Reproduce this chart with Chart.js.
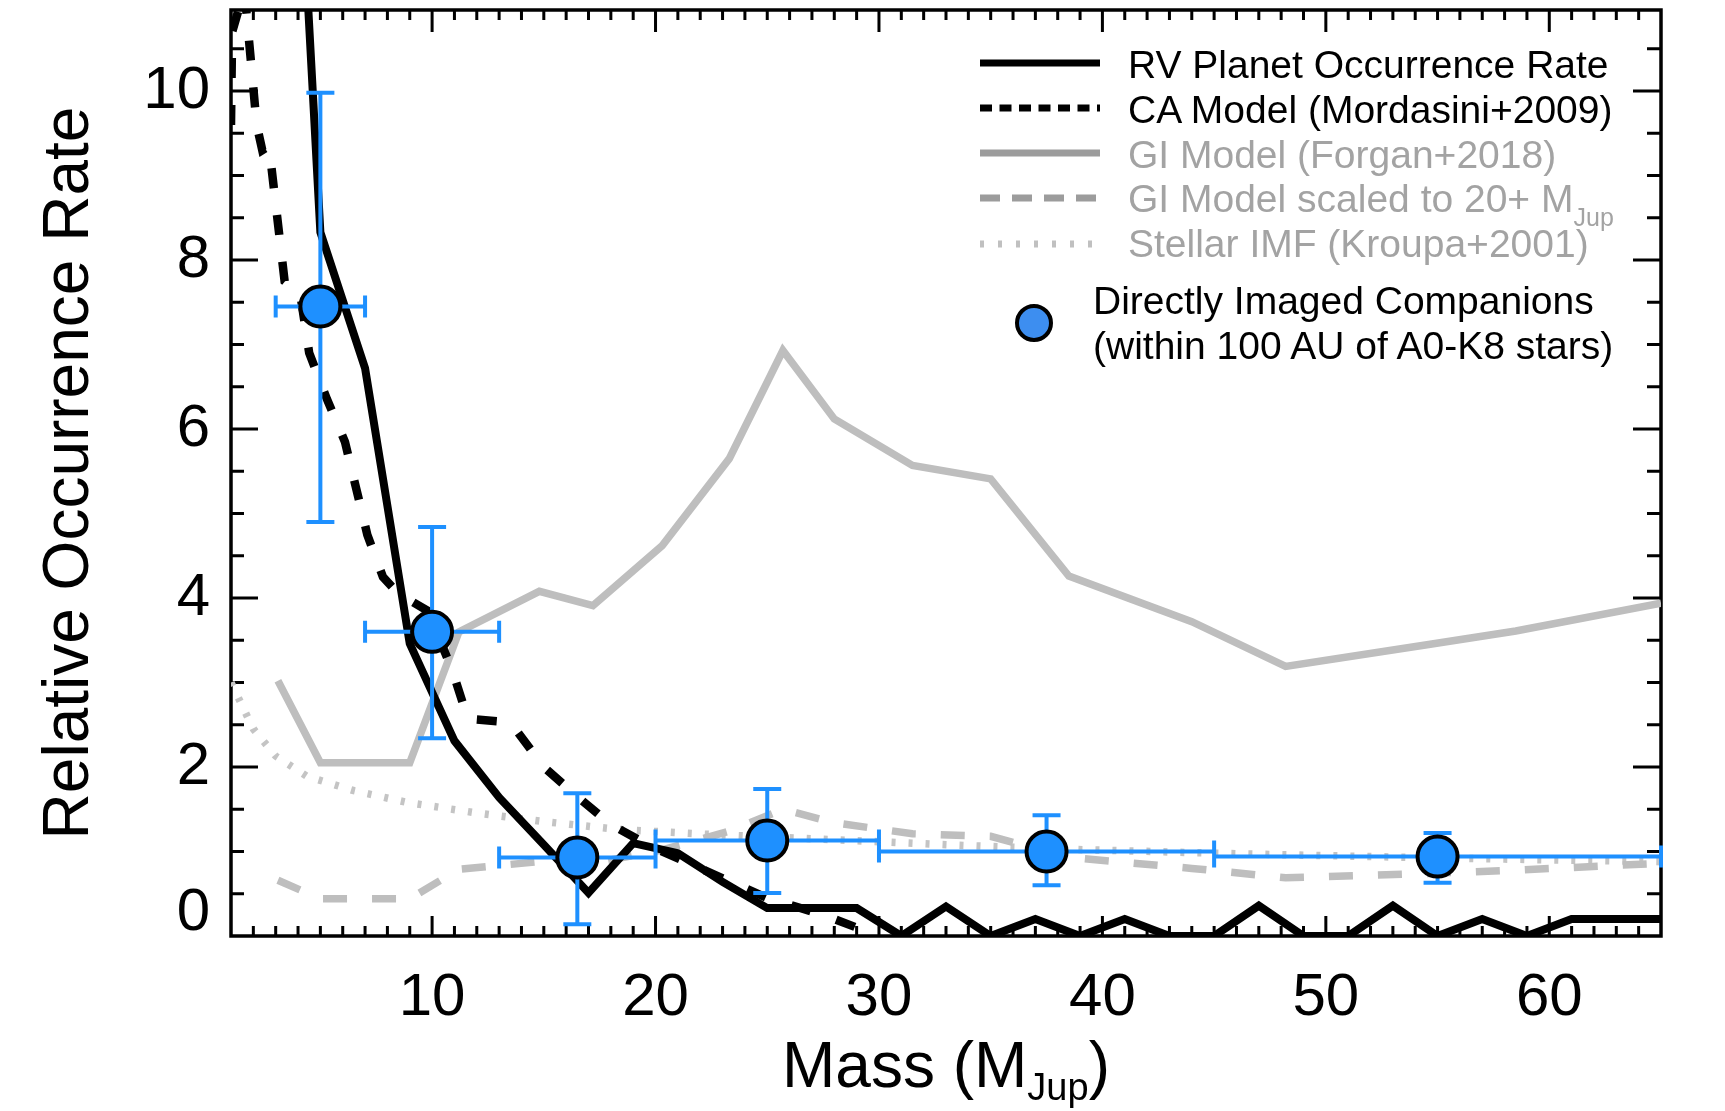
<!DOCTYPE html>
<html>
<head>
<meta charset="utf-8">
<title>Relative Occurrence Rate vs Mass</title>
<script src="https://cdn.jsdelivr.net/npm/chart.js"></script>
<style>
  body { margin: 0; background: #fff; }
  #wrap { position: relative; width: 1725px; height: 1111px; font-family: "Liberation Sans", Arial, sans-serif; color: #000; }
  #chart { position: absolute; left: 0; top: 0; }
  .lg { position: absolute; font-size: 39px; line-height: 1; white-space: nowrap; }
  .grey { color: #a3a3a3; }
  .sub { position: relative; }
  #xtitle { position: absolute; left: 231px; width: 1430px; top: 1033px; text-align: center; font-size: 64px; line-height: 1; white-space: nowrap; }
</style>
</head>
<body>
<div id="wrap">
  <canvas id="chart" width="1725" height="1111"></canvas>

  <!-- legend -->
  <svg style="position:absolute;left:0;top:0" width="1725" height="400">
    <line x1="980" y1="63" x2="1100" y2="63" stroke="#000" stroke-width="7"/>
    <line x1="980" y1="108" x2="1100" y2="108" stroke="#000" stroke-width="7" stroke-dasharray="12 7.5"/>
    <line x1="980" y1="153" x2="1100" y2="153" stroke="#9c9c9c" stroke-width="7"/>
    <line x1="980" y1="198" x2="1100" y2="198" stroke="#9c9c9c" stroke-width="7" stroke-dasharray="20 12"/>
    <line x1="980" y1="244" x2="1100" y2="244" stroke="#c0c0c0" stroke-width="7" stroke-dasharray="4 14"/>
    <circle cx="1034" cy="323" r="17" fill="#3d8ef0" stroke="#000" stroke-width="4"/>
  </svg>
  <div class="lg" style="left:1128px;top:45px">RV Planet Occurrence Rate</div>
  <div class="lg" style="left:1128px;top:90px">CA Model (Mordasini+2009)</div>
  <div class="lg grey" style="left:1128px;top:135px">GI Model (Forgan+2018)</div>
  <div class="lg grey" style="left:1128px;top:179px">GI Model scaled to 20+ M<span class="sub" style="font-size:25px;top:14px">Jup</span></div>
  <div class="lg grey" style="left:1128px;top:224px">Stellar IMF (Kroupa+2001)</div>
  <div class="lg" style="left:1093px;top:281px">Directly Imaged Companions</div>
  <div class="lg" style="left:1093px;top:326px">(within 100 AU of A0-K8 stars)</div>

  <div id="xtitle">Mass (M<span class="sub" style="font-size:38px;top:13px">Jup</span>)</div>
</div>

<script>
// RV planet occurrence rate (solid black)
const rvMass = [3, 5, 7, 9, 11, 13, 15, 17, 19, 21, 23, 25, 27, 29, 31, 33, 35, 37, 39, 41, 43, 45, 47, 49, 51, 53, 55, 57, 59, 61, 63, 65];
const rvRate = [18.1, 8.33, 6.72, 3.46, 2.31, 1.64, 1.08, 0.51, 1.1, 0.98, 0.64, 0.33, 0.33, 0.33, 0, 0.35, 0, 0.2, 0, 0.2, 0, 0, 0.36, 0, 0, 0.36, 0, 0.2, 0, 0.2, 0.2, 0.2];

// CA model, Mordasini+2009 (dashed black)
const caMass = [1.0, 1.05, 1.6, 2.15, 2.4, 2.7, 3.4, 4.1, 4.5, 5.3, 6.1, 6.6, 7.1, 7.8, 8.5, 9.8, 10.9, 11.6, 13.5, 15.0, 16.5, 18.0, 19.8, 22.0, 25.0, 27.5, 30.0];
const caRate = [9.6, 10.7, 11.2, 9.6, 9.3, 9.35, 7.75, 7.6, 6.9, 6.35, 5.85, 5.3, 4.75, 4.25, 4.05, 3.85, 3.15, 2.57, 2.53, 2.0, 1.65, 1.32, 1.06, 0.8, 0.45, 0.25, 0.0];

// GI model, Forgan+2018 (solid grey) and scaled to 20+ MJup (dashed grey)
const giMass = [3.1, 5, 9, 11.2, 14.8, 17.2, 20.3, 23.3, 25.7, 28, 31.5, 35, 38.5, 44, 48.2, 54.6, 58.5, 65];
const giRate = [3.02, 2.05, 2.05, 3.6, 4.08, 3.91, 4.62, 5.65, 6.93, 6.12, 5.57, 5.41, 4.26, 3.72, 3.19, 3.45, 3.61, 3.94];
const giScaledRate = [0.66, 0.44, 0.44, 0.79, 0.88, 0.86, 1.02, 1.24, 1.5, 1.34, 1.21, 1.18, 0.93, 0.8, 0.69, 0.74, 0.78, 0.86];

// stellar IMF, Kroupa+2001 (dotted grey)
const imfMass = [1, 2, 3, 4.4, 6.5, 8.9, 11.9, 14.8, 18.4, 22.6, 28, 33, 38, 45, 52, 58, 65];
const imfRate = [3.0, 2.45, 2.13, 1.89, 1.72, 1.58, 1.46, 1.36, 1.26, 1.2, 1.14, 1.08, 1.03, 0.98, 0.94, 0.91, 0.88];

// directly imaged companions with error bars
const diMass = [5, 10, 16.5, 25, 37.5, 55];
const diRate = [7.45, 3.6, 0.93, 1.13, 1.0, 0.94];
const diMassLo = [3, 7, 13, 20, 30, 45];
const diMassHi = [7, 13, 20, 30, 45, 65];
const diRateLo = [4.9, 2.34, 0.14, 0.51, 0.6, 0.63];
const diRateHi = [9.98, 4.84, 1.69, 1.74, 1.43, 1.22];

// tick labels (the "0" label sits a bit above the axis in the original)
const massTicks = [10, 20, 30, 40, 50, 60];
const rateTicks = [0.27, 2, 4, 6, 8, 10];

const blue = "#1e90ff";
const fontFamily = "'Liberation Sans', Arial, sans-serif";

function pts(xs, ys) {
    return xs.map((x, i) => ({ x: x, y: ys[i] }));
}

// box with inward ticks on all four sides
const frame = {
    id: "frame",
    beforeDatasetsDraw(chart) {
        const { ctx, chartArea: a, scales } = chart;
        const x = scales.x, y = scales.y;
        ctx.save();
        ctx.strokeStyle = "#000";
        ctx.lineWidth = 3;
        ctx.beginPath();
        for (let m = 2; m < 65; m++) {
            const px = x.getPixelForValue(m);
            const big = m % 10 === 0;
            ctx.moveTo(px, a.bottom);
            ctx.lineTo(px, a.bottom - (big ? 20 : 10));
            ctx.moveTo(px, a.top);
            ctx.lineTo(px, a.top + (big ? 22 : 10));
        }
        for (let r = 0.5; r < 10.96; r += 0.5) {
            const py = y.getPixelForValue(r);
            const big = r % 2 === 0;
            ctx.moveTo(a.left, py);
            ctx.lineTo(a.left + (big ? 27 : 13), py);
            ctx.moveTo(a.right, py);
            ctx.lineTo(a.right - (big ? 28 : 14), py);
        }
        ctx.stroke();
        ctx.lineWidth = 3.5;
        ctx.strokeRect(a.left, a.top, a.right - a.left, a.bottom - a.top);
        ctx.restore();
    },
};

// error bars, drawn just under the blue markers
const errorBars = {
    id: "errorBars",
    beforeDatasetDraw(chart, args) {
        if (args.index !== 0) return;
        const { ctx, scales } = chart;
        const x = scales.x, y = scales.y;
        ctx.save();
        ctx.strokeStyle = blue;
        ctx.lineWidth = 4;
        ctx.beginPath();
        diMass.forEach((m, i) => {
            const px = x.getPixelForValue(m);
            const py = y.getPixelForValue(diRate[i]);
            const x0 = x.getPixelForValue(diMassLo[i]);
            const x1 = x.getPixelForValue(diMassHi[i]);
            const y0 = y.getPixelForValue(diRateLo[i]);
            const y1 = y.getPixelForValue(diRateHi[i]);
            ctx.moveTo(x0, py); ctx.lineTo(x1, py);
            ctx.moveTo(x0, py - 11); ctx.lineTo(x0, py + 11);
            ctx.moveTo(x1, py - 11); ctx.lineTo(x1, py + 11);
            ctx.moveTo(px, y0); ctx.lineTo(px, y1);
            ctx.moveTo(px - 14, y0); ctx.lineTo(px + 14, y0);
            ctx.moveTo(px - 14, y1); ctx.lineTo(px + 14, y1);
        });
        ctx.stroke();
        ctx.restore();
    },
};

new Chart(document.getElementById("chart"), {
    type: "scatter",
    data: {
        datasets: [
            {
                label: "Directly Imaged Companions",
                data: pts(diMass, diRate),
                pointRadius: 20,
                pointBackgroundColor: blue,
                pointBorderColor: "#000",
                pointBorderWidth: 4,
            },
            {
                label: "RV Planet Occurrence Rate",
                data: pts(rvMass, rvRate),
                showLine: true,
                pointRadius: 0,
                borderColor: "#000",
                borderWidth: 8,
            },
            {
                label: "CA Model (Mordasini+2009)",
                data: pts(caMass, caRate),
                showLine: true,
                pointRadius: 0,
                borderColor: "#000",
                borderWidth: 8.5,
                borderDash: [20, 27],
            },
            {
                label: "GI Model (Forgan+2018)",
                data: pts(giMass, giRate),
                showLine: true,
                pointRadius: 0,
                borderColor: "#bebebe",
                borderWidth: 7.5,
            },
            {
                label: "GI Model scaled to 20+ MJup",
                data: pts(giMass, giScaledRate),
                showLine: true,
                pointRadius: 0,
                borderColor: "#bebebe",
                borderWidth: 7.5,
                borderDash: [24, 25],
            },
            {
                label: "Stellar IMF (Kroupa+2001)",
                data: pts(imfMass, imfRate),
                showLine: true,
                pointRadius: 0,
                borderColor: "#c4c4c4",
                borderWidth: 7.5,
                borderDash: [4, 13],
            },
        ],
    },
    options: {
        responsive: false,
        animation: false,
        events: [],
        layout: { autoPadding: false, padding: { top: 10, right: 64, left: 0, bottom: 0 } },
        plugins: {
            legend: { display: false },
            tooltip: { enabled: false },
        },
        scales: {
            x: {
                type: "linear",
                min: 1,
                max: 65,
                grid: { display: false, drawTicks: false },
                border: { display: false },
                afterBuildTicks: (s) => { s.ticks = massTicks.map((v) => ({ value: v })); },
                afterFit: (s) => {
                    s.height = 175;
                    s.paddingLeft = 0;
                    s.paddingRight = 0;
                },
                ticks: {
                    autoSkip: false,
                    maxRotation: 0,
                    minRotation: 0,
                    padding: 26,
                    color: "#000",
                    font: { family: fontFamily, size: 60 },
                },
            },
            y: {
                type: "linear",
                min: 0,
                max: 10.96,
                grid: { display: false, drawTicks: false },
                border: { display: false },
                afterBuildTicks: (s) => { s.ticks = rateTicks.map((v) => ({ value: v })); },
                afterFit: (s) => {
                    s.width = 231;
                    s.paddingTop = 0;
                    s.paddingBottom = 0;
                },
                ticks: {
                    autoSkip: false,
                    padding: 21,
                    color: "#000",
                    font: { family: fontFamily, size: 60 },
                    callback: (v) => (v < 1 ? "0" : String(v)),
                },
                title: {
                    display: true,
                    text: "Relative Occurrence Rate",
                    color: "#000",
                    font: { family: fontFamily, size: 64 },
                    padding: { top: 32, bottom: 0 },
                },
            },
        },
    },
    plugins: [frame, errorBars],
});
</script>
</body>
</html>
